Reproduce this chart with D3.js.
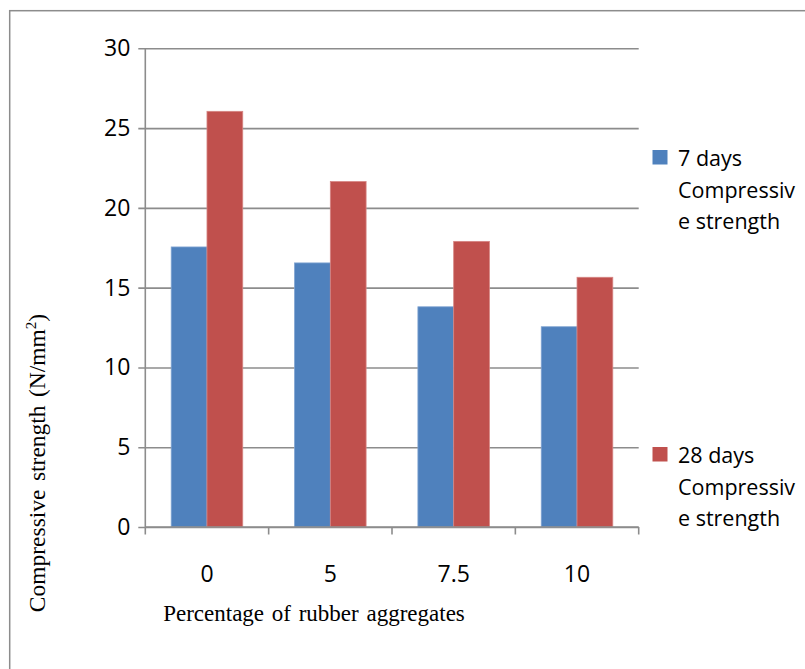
<!DOCTYPE html>
<html>
<head>
<meta charset="utf-8">
<script src="https://cdn.jsdelivr.net/npm/d3@7"></script>
<style>
  html, body { margin: 0; padding: 0; background: #fff; }
  svg { display: block; }
</style>
</head>
<body>
<svg id="chart" width="805" height="669"></svg>
<script>
const categories = ["0", "5", "7.5", "10"];
const seriesNames = ["7 days Compressive strength", "28 days Compressive strength"];
const days7 = [17.55, 16.55, 13.8, 12.55];
const days28 = [26.05, 21.65, 17.9, 15.65];
const yTicks = [0, 5, 10, 15, 20, 25, 30];
const colors = ["#4F81BD", "#C0504D"];

(function () {
const svg = d3.select("#chart");
const pLeft = 145.3, pRight = 638.7, pTop = 48.3, pBottom = 527;

// outer frame
svg.append("rect").attr("x", 9.7).attr("y", 10.7).attr("width", 820).attr("height", 700)
  .attr("fill", "none").attr("stroke", "#8c8c8c").attr("stroke-width", 1.5);

const x = d3.scaleBand().domain(categories).range([pLeft, pRight]).paddingInner(0.42).paddingOuter(0.21);
const xs = d3.scaleBand().domain([0, 1]).range([0, x.bandwidth()]);
const y = d3.scaleLinear().domain([0, 30]).range([pBottom, pTop]);

// gridlines + y axis
const yAxis = d3.axisLeft(y).tickValues(yTicks).tickSize(-(pRight - pLeft)).tickPadding(15).tickSizeOuter(0);
const gy = svg.append("g").attr("transform", `translate(${pLeft},0)`).call(yAxis);
gy.select(".domain").remove();
gy.selectAll(".tick line").attr("x1", -7).attr("stroke", "#8c8c8c").attr("stroke-width", 1.6);
gy.selectAll(".tick text").attr("font-family", "Open Sans").attr("font-size", 23).attr("fill", "#000");
svg.append("line").attr("x1", pLeft).attr("x2", pLeft).attr("y1", pTop).attr("y2", pBottom)
  .attr("stroke", "#8c8c8c").attr("stroke-width", 1.6);

// bars
const data = categories.map((c, i) => ({ c, vals: [days7[i], days28[i]] }));
const g = svg.append("g");
data.forEach(d => {
  d.vals.forEach((v, k) => {
    g.append("rect")
      .attr("x", x(d.c) + xs(k))
      .attr("y", y(v))
      .attr("width", xs.bandwidth())
      .attr("height", y(0) - y(v))
      .attr("fill", colors[k])
      .attr("stroke", k === 0 ? "#7fa3d1" : "#d68583")
      .attr("stroke-width", 0.8);
  });
});

// x axis
const xAxisScale = d3.scalePoint().domain(d3.range(categories.length + 1)).range([pLeft, pRight]);
const gx = svg.append("g");
gx.append("line").attr("x1", pLeft).attr("x2", pRight).attr("y1", pBottom).attr("y2", pBottom)
  .attr("stroke", "#8c8c8c").attr("stroke-width", 1.6);
gx.selectAll("line.tk").data(d3.range(categories.length + 1)).join("line").attr("class", "tk")
  .attr("x1", d => xAxisScale(d)).attr("x2", d => xAxisScale(d))
  .attr("y1", pBottom).attr("y2", pBottom + 7.5)
  .attr("stroke", "#8c8c8c").attr("stroke-width", 1.6);
gx.selectAll("text").data(categories).join("text")
  .attr("x", d => x(d) + x.bandwidth() / 2)
  .attr("y", 582)
  .attr("text-anchor", "middle")
  .attr("font-family", "Open Sans").attr("font-size", 23).attr("fill", "#000")
  .text(d => d);

// axis titles
svg.append("text").attr("x", 314).attr("y", 621).attr("text-anchor", "middle")
  .attr("font-family", "Liberation Serif").attr("font-size", 23).attr("fill", "#000")
  .attr("word-spacing", 2)
  .text("Percentage of rubber aggregates");

const yl = svg.append("text").attr("transform", "translate(45,463) rotate(-90)")
  .attr("text-anchor", "middle")
  .attr("font-family", "Liberation Serif").attr("font-size", 23.5).attr("fill", "#000")
  .attr("word-spacing", 2.5);
yl.append("tspan").text("Compressive strength (N/mm");
yl.append("tspan").attr("font-size", 15).attr("dy", -9).text("2");
yl.append("tspan").attr("dy", 9).text(")");

// legend
const legendY = [150, 447];
const legendLines = [["7 days", "Compressiv", "e strength"], ["28 days", "Compressiv", "e strength"]];
legendY.forEach((ly, k) => {
  svg.append("rect").attr("x", 652.5).attr("y", ly).attr("width", 15).attr("height", 14.5).attr("fill", colors[k]);
  const t = svg.append("text").attr("font-family", "Open Sans").attr("font-size", 21.5).attr("fill", "#000");
  legendLines[k].forEach((s, i) => {
    t.append("tspan").attr("x", 678).attr("y", ly + 16 + i * 31.5).text(s);
  });
});
})();
</script>
</body>
</html>
